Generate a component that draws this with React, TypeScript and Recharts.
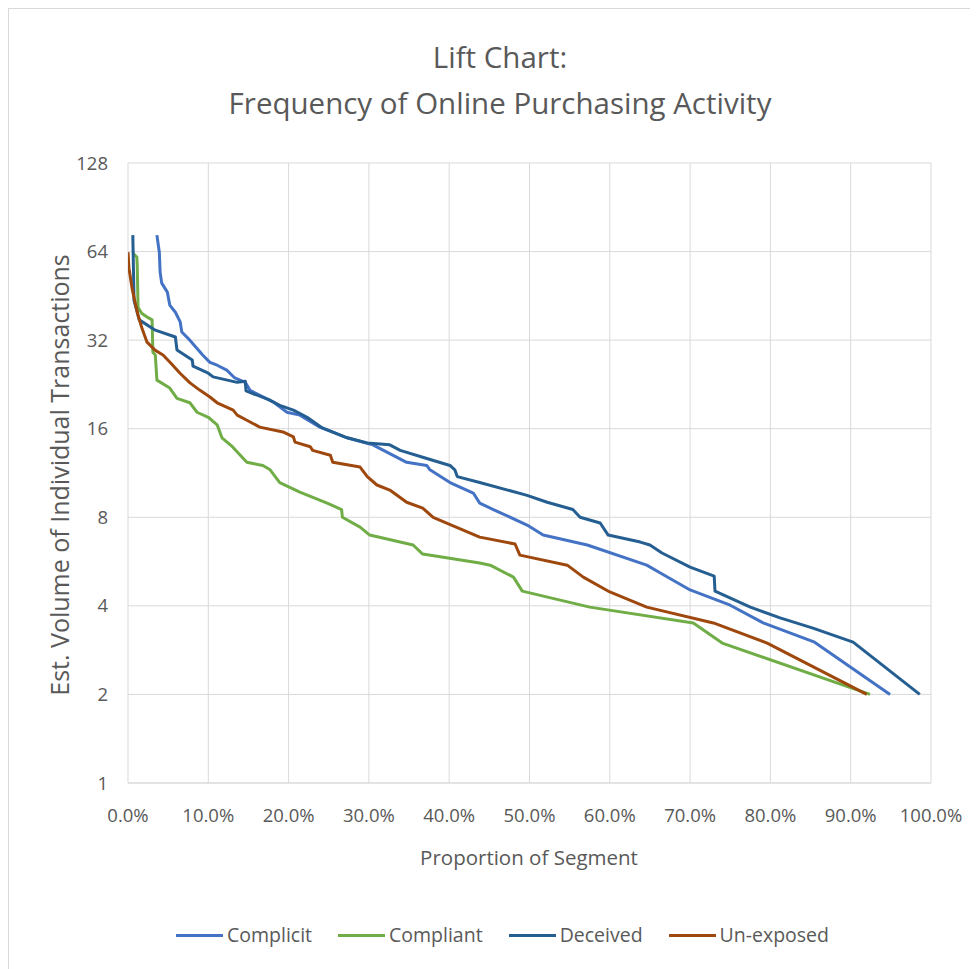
import React from 'react';
import { LineChart, Line, XAxis, YAxis, CartesianGrid } from 'recharts';

const complicitPct = [3.6, 3.9, 4.0, 4.2, 4.9, 5.2, 5.9, 6.5, 6.7, 7.7, 9.3, 10.2, 11.1, 12.3, 13.3, 14.6, 15.2, 18.1, 19.8, 21.4, 23.9, 27.3, 30.5, 32.3, 34.7, 37.2, 37.6, 40.1, 43.0, 43.8, 45.5, 49.7, 51.7, 57.2, 64.6, 66.3, 70.0, 75.0, 79.1, 85.5, 94.9];
const complicitVol = [72.8, 63.7, 54.5, 50.0, 46.6, 42.1, 39.8, 36.9, 34.1, 32.0, 28.5, 26.9, 26.3, 25.3, 23.8, 23.0, 21.6, 19.7, 18.2, 17.8, 16.2, 14.9, 14.1, 13.3, 12.3, 12.0, 11.6, 10.5, 9.67, 8.94, 8.5, 7.53, 6.96, 6.44, 5.5, 5.17, 4.53, 4.02, 3.5, 3.01, 2.0];

const compliantPct = [0.6, 1.1, 1.15, 1.25, 1.7, 2.4, 3.0, 3.1, 3.4, 3.6, 5.2, 6.1, 7.7, 8.6, 10.0, 11.1, 11.7, 13.0, 14.8, 16.8, 17.7, 18.9, 21.4, 24.8, 26.6, 26.7, 28.9, 30.1, 35.5, 36.7, 43.8, 45.1, 48.0, 49.1, 57.5, 70.4, 74.0, 92.4];
const compliantVol = [63.2, 61.3, 57.5, 41.4, 39.5, 38.3, 37.5, 29.1, 28.5, 23.4, 22.0, 20.3, 19.6, 18.2, 17.5, 16.5, 14.9, 13.9, 12.3, 12.0, 11.6, 10.5, 9.74, 8.94, 8.5, 8.0, 7.41, 6.96, 6.44, 6.0, 5.59, 5.5, 5.01, 4.49, 3.96, 3.5, 2.99, 2.0];

const deceivedPct = [0.6, 0.75, 1.4, 3.4, 5.9, 6.1, 8.0, 8.1, 10.0, 10.6, 13.6, 14.6, 14.7, 17.7, 18.9, 20.6, 22.3, 24.2, 27.3, 29.8, 32.6, 33.9, 36.7, 40.1, 40.7, 41.0, 43.8, 49.7, 52.2, 55.4, 56.3, 58.8, 59.8, 63.8, 65.0, 66.5, 70.0, 73.0, 73.1, 77.5, 81.2, 85.3, 90.3, 98.6];
const deceivedVol = [72.8, 43.7, 37.5, 34.6, 32.8, 29.6, 27.4, 26.1, 24.7, 24.0, 23.0, 23.2, 21.5, 20.0, 19.2, 18.5, 17.5, 16.1, 14.9, 14.3, 14.1, 13.5, 12.8, 12.0, 11.6, 11.0, 10.5, 9.5, 9.0, 8.5, 8.0, 7.65, 6.96, 6.59, 6.44, 6.05, 5.42, 5.05, 4.49, 3.96, 3.64, 3.36, 3.01, 2.0];

const unexposedPct = [0.0, 0.12, 0.5, 0.87, 1.25, 1.74, 2.37, 3.36, 4.36, 5.23, 6.48, 7.72, 8.97, 10.2, 11.1, 13.1, 13.6, 14.8, 16.4, 19.3, 20.6, 20.8, 22.7, 23.0, 25.2, 25.5, 28.9, 29.8, 31.0, 32.6, 34.7, 36.7, 38.0, 43.8, 48.2, 48.8, 54.7, 56.7, 60.0, 64.6, 72.9, 79.6, 92.0];
const unexposedVol = [63.7, 56.2, 48.1, 43.1, 38.9, 35.1, 31.5, 29.6, 28.5, 26.9, 24.7, 22.9, 21.6, 20.5, 19.6, 18.5, 17.8, 17.1, 16.2, 15.6, 15.0, 14.4, 13.9, 13.5, 13.0, 12.3, 11.85, 11.0, 10.3, 9.9, 9.0, 8.6, 8.0, 6.85, 6.49, 5.95, 5.5, 5.01, 4.46, 3.96, 3.5, 2.99, 2.0];

const xTicks = [0, 10, 20, 30, 40, 50, 60, 70, 80, 90, 100];
const yTicks = [1, 2, 4, 8, 16, 32, 64, 128];

const seriesNames = ['Complicit', 'Compliant', 'Deceived', 'Un-exposed'];
const seriesColors = ['#4472C4', '#70AD47', '#255E91', '#9E480E'];

const titleLine1 = 'Lift Chart:';
const titleLine2 = 'Frequency of Online Purchasing Activity';
const xTitle = 'Proportion of Segment';
const yTitle = 'Est. Volume of Individual Transactions';

const toPoints = (xs: number[], ys: number[]) => xs.map((x, i) => ({ x, y: ys[i] }));

const seriesData = [
  toPoints(complicitPct, complicitVol),
  toPoints(compliantPct, compliantVol),
  toPoints(deceivedPct, deceivedVol),
  toPoints(unexposedPct, unexposedVol),
];

const FONT = '"Open Sans", "DejaVu Sans", sans-serif';
const TEXT = '#595959';

export default function App() {
  return (
    <div style={{ position: 'relative', width: 970, height: 961, fontFamily: FONT }}>
      <div style={{ position: 'absolute', left: 0, top: 0, width: 1000, height: 1000, border: '1px solid #d9d9d9', boxSizing: 'border-box' }} />
      <div style={{ position: 'absolute', left: 0, width: 984, top: 26, textAlign: 'center', color: TEXT, fontSize: 29.5, lineHeight: '46px' }}>
        <div>{titleLine1}</div>
        <div>{titleLine2}</div>
      </div>
      <div style={{ position: 'absolute', left: 0, top: 0 }}>
        <LineChart width={970} height={961} margin={{ top: 155, right: 47, bottom: 156, left: 60 }}>
          <CartesianGrid stroke="#d9d9d9" strokeWidth={1} />
          <XAxis
            type="number"
            dataKey="x"
            domain={[0, 100]}
            ticks={xTicks}
            allowDataOverflow
            tickFormatter={(v: number) => v.toFixed(1) + '%'}
            axisLine={{ stroke: '#d9d9d9' }}
            tickLine={false}
            tickSize={6}
            tickMargin={20}
            height={30}
            tick={{ fill: TEXT, fontSize: 18.5, fontFamily: FONT }}
          />
          <YAxis
            type="number"
            scale="log"
            domain={[1, 128]}
            ticks={yTicks}
            allowDataOverflow
            axisLine={false}
            tickLine={false}
            tickSize={6}
            tickMargin={14}
            width={60}
            tick={{ fill: TEXT, fontSize: 18.5, fontFamily: FONT }}
          />
          {seriesData.map((d, i) => (
            <Line
              key={seriesNames[i]}
              data={d}
              dataKey="y"
              name={seriesNames[i]}
              type="linear"
              stroke={seriesColors[i]}
              strokeWidth={3}
              strokeLinejoin="round"
              dot={false}
              activeDot={false}
              isAnimationActive={false}
            />
          ))}
        </LineChart>
      </div>
      <div style={{ position: 'absolute', left: 51 - 300, top: 467 - 16, width: 600, textAlign: 'center', transform: 'rotate(-90deg)', color: TEXT, fontSize: 25, lineHeight: '32px', whiteSpace: 'nowrap' }}>
        {yTitle}
      </div>
      <div style={{ position: 'absolute', left: 521 - 200, top: 835, width: 400, textAlign: 'center', color: TEXT, fontSize: 20.5, lineHeight: '28px' }}>
        {xTitle}
      </div>
      <div style={{ position: 'absolute', left: 0, width: 989, top: 913, display: 'flex', justifyContent: 'center', color: TEXT, fontSize: 19.5, lineHeight: '28px' }}>
        {seriesNames.map((n, i) => (
          <div key={n} style={{ display: 'flex', alignItems: 'center', margin: '0 13px' }}>
            <div style={{ width: 47, height: 3, background: seriesColors[i], marginRight: 4 }} />
            <span>{n}</span>
          </div>
        ))}
      </div>
    </div>
  );
}
